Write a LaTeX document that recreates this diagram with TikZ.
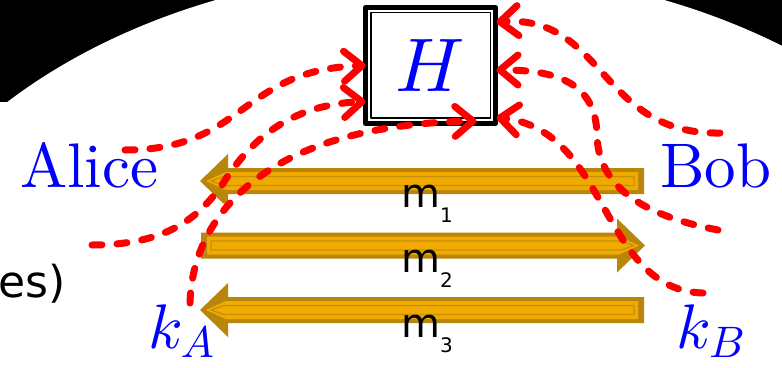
\RequirePackage{fix-cm}
\documentclass[tikz,border=0pt]{standalone}
\usepackage{fontspec}
\setmainfont{lmroman10-regular.otf}
\newfontfamily\djv{DejaVu Sans}
\DeclareFontShape{OML}{cmm}{m}{it}{<->cmmi10}{\skewchar\font'177}
\usetikzlibrary{arrows.meta,calc}

\definecolor{bargold}{RGB}{184,134,11}
\definecolor{barcore}{RGB}{240,170,0}
\definecolor{keyblue}{RGB}{0,0,255}
\definecolor{keyred}{RGB}{255,0,0}

% golden message bar: tip x, y, direction (1 right, -1 left)
\newcommand\goldbar[3]{%
  \begin{scope}[shift={(#1,#2)}, xscale=#3]
    \fill[bargold] (0,0) -- (-28,-27) -- (-28,-13) -- (-444,-13) -- (-444,13) -- (-28,13) -- (-28,27) -- cycle;
    \fill[barcore] (-6,0) -- (-26,-9) -- (-438,-9) -- (-438,9) -- (-26,9) -- cycle;
    \draw[bargold!75!barcore, line width=1.2pt] (-11,0) -- (-24,-4.5) -- (-434,-4.5) -- (-434,4.5) -- (-24,4.5) -- cycle;
  \end{scope}}
\newcommand\msg[1]{\djv\fontsize{40}{40}\selectfont m\raisebox{-15pt}{\fontsize{20}{20}\selectfont #1}}

\begin{document}
\begin{tikzpicture}[x=1pt, y=-1pt, line cap=round, line join=round,
  keyflow/.style={keyred, line width=7pt, dash pattern=on 10pt off 15pt, -{Straight Barb[length=18pt,width=30pt,round]}},
  party/.style={anchor=base west, inner sep=0pt, text=keyblue, font=\fontsize{63}{63}\selectfont}]
  \useasboundingbox (0,0) rectangle (782,367);
  \clip (0,0) rectangle (782,367);
  % --- background ---
  \fill[black] (0,0) rectangle (782,102);
  \fill[white] (440,381) ellipse [x radius=588pt, y radius=412pt];
  % --- messages ---
  \goldbar{200}{181}{-1}
  \goldbar{645}{245.5}{1}
  \goldbar{200}{310}{-1}
  \node[anchor=base west, inner sep=0pt] (m1) at (401,207) {\msg{1}};
  \node[anchor=base west, inner sep=0pt] (m2) at (401,272) {\msg{2}};
  \node[anchor=base west, inner sep=0pt] (m3) at (401,337) {\msg{3}};
  \node[anchor=base east, inner sep=0pt, font=\djv\fontsize{44}{44}\selectfont] (es) at (66,297) {es)};
  % --- hash box ---
  \node[draw, line width=5pt, outer sep=0pt, minimum width=130pt, minimum height=116pt, inner sep=0pt,
        text=keyblue, font=\fontsize{76}{76}\selectfont] (H) at (430.5,65.5) {$H$};
  \draw[line width=1.5pt] ($(H.south west)+(5.3,-5.3)$) rectangle ($(H.north east)+(-4.8,4.8)$);
  % --- parties and keys ---
  \node[party] (alice) at (20,187) {Alice};
  \node[party] (bob) at (660,187) {Bob};
  \node[party] (kA) at (148,348) {$k_A$};
  \node[party] (kB) at (676,348) {$k_B$};
  % --- inputs to H ---
  \coordinate (a1) at (125,150);
  \coordinate (a2) at (92,245);
  \coordinate (ka) at (190,303);
  \coordinate (b1) at (720,133);
  \coordinate (b2) at (718,230);
  \coordinate (kb) at (703,293);
  \coordinate (Hl2) at ($(H.south west)+(0,-22)$);
  \coordinate (Hb) at ($(H.south east)+(-19,-2.5)$);
  \coordinate (Hr1) at ($(H.north east)+(1,14.5)$);
  \coordinate (Hr2) at ($(H.east)+(1,4.5)$);
  \coordinate (Hr3) at ($(H.south east)+(1,-6)$);
  \draw[keyflow] (a1) .. controls (245,150) and (240,70) .. (H.west);
  \draw[keyflow] (a2) .. controls (170,245) and (200,215) .. (222,185) .. controls (250,140) and (290,105) .. (Hl2);
  \draw[keyflow] (ka) .. controls (192,220) and (260,125) .. (Hb);
  \draw[keyflow] (b1) .. controls (600,135) and (605,15) .. (Hr1);
  \draw[keyflow] (b2) .. controls (640,215) and (598,185) .. (597,135) .. controls (596,85) and (560,70) .. (Hr2);
  \draw[keyflow] (kb) .. controls (600,290) and (610,130) .. (Hr3);
\end{tikzpicture}
\end{document}
